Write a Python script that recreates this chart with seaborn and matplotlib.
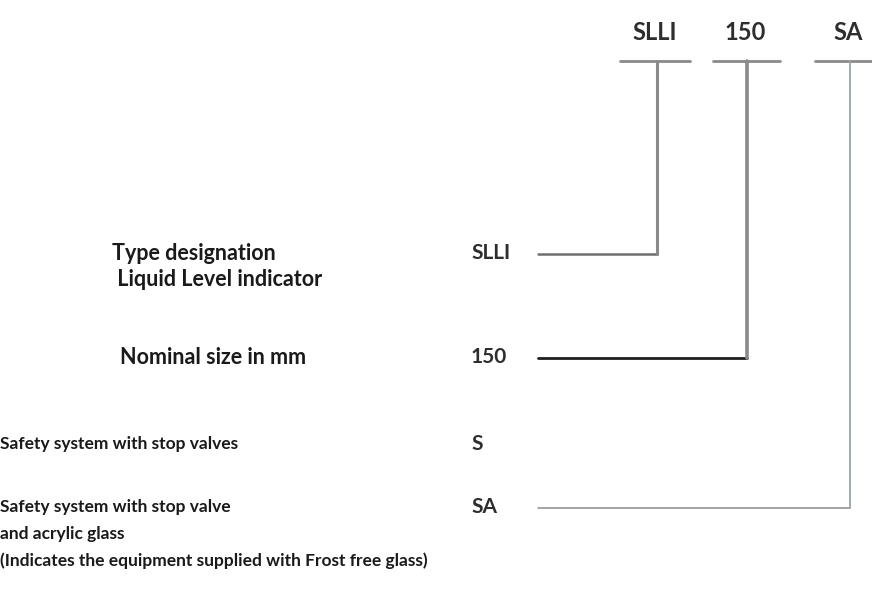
import matplotlib
matplotlib.use("Agg")
import matplotlib.pyplot as plt
import seaborn as sns

sns.set_theme(style="white")
plt.rcParams['font.family'] = ['Lato', 'DejaVu Sans']

# Data: order code parts and their descriptions
codes = ['SLLI', '150', 'SA']
descriptions = [['Type designation', ' Liquid Level indicator'],
                ['Nominal size in mm'],
                ['Safety system with stop valves'],
                ['Safety system with stop valve', 'and acrylic glass',
                 '(Indicates the equipment supplied with Frost free glass)']]
option_codes = ['SLLI', '150', 'S', 'SA']
linked = [0, 1, None, 2]   # which top code each option is connected to

# Layout (pixels, figure is 872 x 596)
top_x = [655, 745, 848]
top_y = 33
bar_y = 61
bar_span = [(620, 690), (713, 780), (815, 872)]
desc_x = [112, 120, 0, 0]
desc_y = [253, 357, 444, 507]
desc_size = [15.5, 15.5, 12.5, 12.5]
line_gap = 27
code_x = 471
line_start = 538
line_colors = ['#6e6e6e', '#1e1e1e', '#8a8a8a']
line_widths = [1.8, 2.0, 1.1]
vert_widths = [2.2, 2.6, 1.3]

fig = plt.figure(figsize=(8.72, 5.96), dpi=100)
ax = fig.add_axes([0, 0, 1, 1])
ax.set_xlim(0, 872)
ax.set_ylim(596, 0)
ax.axis('off')

for i, c in enumerate(codes):
    ax.text(top_x[i], top_y, c, ha='center', va='center', fontsize=17,
            fontweight='bold', color='#2e2e2e')
    ax.plot(bar_span[i], [bar_y, bar_y], color='#8a8a8a', lw=2)

for j, (lines, oc) in enumerate(zip(descriptions, option_codes)):
    for n, t in enumerate(lines):
        ax.text(desc_x[j], desc_y[j] + n * line_gap, t, ha='left', va='center',
                fontsize=desc_size[j], fontweight='bold', color='#1a1a1a')
    ax.text(code_x, desc_y[j], oc, ha='left', va='center', fontsize=15,
            fontweight='bold', color='#2e2e2e')
    k = linked[j]
    if k is not None:
        ax.plot([line_start, top_x[k] + 2], [desc_y[j] + 1, desc_y[j] + 1],
                color=line_colors[k], lw=line_widths[k])
        ax.plot([top_x[k] + 2, top_x[k] + 2], [bar_y, desc_y[j] + 1],
                color='#8a8a8a' if k < 2 else '#9aa4a8', lw=vert_widths[k])

fig.savefig('out.png', dpi=100)
